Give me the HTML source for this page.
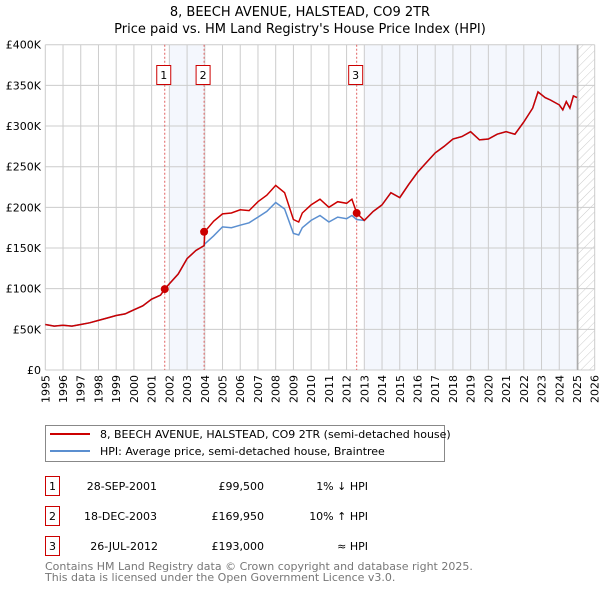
<!DOCTYPE html>
<html><head><meta charset="utf-8"><style>
body{margin:0;background:#fff;font-family:"DejaVu Sans","Liberation Sans",sans-serif;}
svg text{font-family:"DejaVu Sans","Liberation Sans",sans-serif;}
</style></head><body>
<svg id="c" width="600" height="590" xmlns="http://www.w3.org/2000/svg">
<defs><pattern id="hatch" width="6" height="6" patternUnits="userSpaceOnUse" patternTransform="rotate(45)"><line x1="0" y1="0" x2="0" y2="6" stroke="#ccc" stroke-width="1"/></pattern></defs>
<text x="300" y="16" text-anchor="middle" font-size="13">8, BEECH AVENUE, HALSTEAD, CO9 2TR</text>
<text x="300" y="33" text-anchor="middle" font-size="13">Price paid vs. HM Land Registry's House Price Index (HPI)</text>
<g id="plot"></g>
<g>
<rect x="45.5" y="425.5" width="399" height="36" fill="#fff" stroke="#888"/>
<line x1="50" y1="434" x2="90" y2="434" stroke="#cc0000" stroke-width="2"/>
<text x="100" y="438" font-size="11">8, BEECH AVENUE, HALSTEAD, CO9 2TR (semi-detached house)</text>
<line x1="50" y1="451" x2="90" y2="451" stroke="#5b8fd0" stroke-width="2"/>
<text x="100" y="455" font-size="11">HPI: Average price, semi-detached house, Braintree</text>
</g>
<g font-size="11">
<rect x="45.5" y="476.5" width="14" height="19" fill="#fff" stroke="#c00"/><text x="52.5" y="490" text-anchor="middle">1</text>
<text x="157" y="490" text-anchor="end">28-SEP-2001</text><text x="264" y="490" text-anchor="end">£99,500</text><text x="368" y="490" text-anchor="end">1% ↓ HPI</text>
<rect x="45.5" y="506.5" width="14" height="19" fill="#fff" stroke="#c00"/><text x="52.5" y="520" text-anchor="middle">2</text>
<text x="157" y="520" text-anchor="end">18-DEC-2003</text><text x="264" y="520" text-anchor="end">£169,950</text><text x="368" y="520" text-anchor="end">10% ↑ HPI</text>
<rect x="45.5" y="536.5" width="14" height="19" fill="#fff" stroke="#c00"/><text x="52.5" y="550" text-anchor="middle">3</text>
<text x="158" y="550" text-anchor="end">26-JUL-2012</text><text x="264" y="550" text-anchor="end">£193,000</text><text x="368" y="550" text-anchor="end">≈ HPI</text>
</g>
<text x="45" y="570" font-size="11" fill="#777">Contains HM Land Registry data © Crown copyright and database right 2025.</text>
<text x="45" y="581" font-size="11" fill="#777">This data is licensed under the Open Government Licence v3.0.</text>
</svg>
<script>
const years=[1995,1995.5,1996,1996.5,1997,1997.5,1998,1998.5,1999,1999.5,2000,2000.5,2001,2001.5,2001.74,2002,2002.5,2003,2003.5,2003.96,2004,2004.5,2005,2005.5,2006,2006.5,2007,2007.5,2008,2008.5,2009,2009.3,2009.5,2010,2010.5,2011,2011.5,2012,2012.3,2012.57,2013,2013.5,2014,2014.5,2015,2015.5,2016,2016.5,2017,2017.5,2018,2018.5,2019,2019.5,2020,2020.5,2021,2021.5,2022,2022.5,2022.8,2023.2,2023.5,2024,2024.2,2024.4,2024.6,2024.8,2025];
const hpiValues=[56,54,55,54,56,58,61,64,67,69,74,79,87,92,100,106,118,137,147,153,155,165,176,175,178,181,188,195,206,198,168,166,175,184,190,182,188,186,190,185,184,195,203,218,212,228,243,255,267,275,284,287,293,283,284,290,293,290,305,322,342,335,332,326,320,330,322,337,335];
const priceValues=[56,54,55,54,56,58,61,64,67,69,74,79,87,92,99.5,106,118,137,147,153,170,183,192,193,197,196,207,215,227,218,185,182,193,203,210,200,207,205,210,193,184,195,203,218,212,228,243,255,267,275,284,287,293,283,284,290,293,290,305,322,342,335,332,326,320,330,322,337,335];
const saleYears=[2001.74,2003.96,2012.57];
const saleValues=[99.5,169.95,193];
const saleLabels=["1","2","3"];
const yTicks=[0,50,100,150,200,250,300,350,400];
const yTickLabels=["£0","£50K","£100K","£150K","£200K","£250K","£300K","£350K","£400K"];
const xTicks=[];for(let y=1995;y<=2026;y++)xTicks.push(y);
const X0=45.3,X1=594.7,Y0=370,Y1=44.7;
const xs=v=>X0+(v-1995)/(2026-1995)*(X1-X0);
const ys=v=>Y0-v/400*(Y0-Y1);
const NS="http://www.w3.org/2000/svg";
const g=document.getElementById('plot');
function mk(t,a,p){const e=document.createElementNS(NS,t);for(const k in a)e.setAttribute(k,a[k]);(p||g).appendChild(e);return e;}
let e;
e=mk('rect',{x:X0,y:Y1,width:X1-X0,height:Y0-Y1,fill:'#fff'});


e=mk('rect',{x:xs(2002),y:Y1,width:xs(2003.96)-xs(2002),height:Y0-Y1,fill:'#f4f7fd'});


e=mk('rect',{x:xs(2013),y:Y1,width:xs(2025.05)-xs(2013),height:Y0-Y1,fill:'#f4f7fd'});


e=mk('rect',{x:xs(2025.05),y:Y1,width:X1-xs(2025.05),height:Y0-Y1,fill:'url(#hatch)'});


xTicks.forEach((t,i)=>{
  e=mk('line',{x1:xs(t),x2:xs(t),y1:Y1,y2:Y0,stroke:'#ccc','stroke-width':1});
  
  
  e=mk('text',{x:0,y:0,'font-size':11,'text-anchor':'end',transform:`translate(${xs(t)+4},${Y0+5}) rotate(-90)`});
  e.textContent=t;
  
  
});
yTicks.forEach((t,i)=>{
  e=mk('line',{x1:X0,x2:X1,y1:ys(t),y2:ys(t),stroke:'#ccc','stroke-width':1});
  
  
  e=mk('text',{x:41,y:ys(t)+4,'font-size':11,'text-anchor':'end'});
  e.textContent=yTickLabels[i];
  
  
});
e=mk('line',{x1:xs(2025.05),x2:xs(2025.05),y1:Y1,y2:Y0,stroke:'#999','stroke-width':1});


saleYears.forEach((s,i)=>{
  e=mk('line',{x1:xs(s),x2:xs(s),y1:Y1,y2:Y0,stroke:'#e06060','stroke-width':1,'stroke-dasharray':'2,2'});
  
  
  e=mk('rect',{x:xs(s)-8,y:65.5,width:14,height:19,fill:'#fff',stroke:'#c00'});
  
  
  e=mk('text',{x:xs(s)-1,y:79,'font-size':11,'text-anchor':'middle'});
  e.textContent=saleLabels[i];
  
  
});
const path=arr=>arr.map((v,i)=>(i?'L':'M')+xs(years[i]).toFixed(1)+','+ys(v).toFixed(1)).join('');
e=mk('path',{d:path(hpiValues),fill:'none',stroke:'#5b8fd0','stroke-width':1.5});


e=mk('path',{d:path(priceValues),fill:'none',stroke:'#cc0000','stroke-width':1.5});


saleYears.forEach((s,i)=>{
  e=mk('circle',{cx:xs(s),cy:ys(saleValues[i]),r:4,fill:'#cc0000'});
  
  
});
</script>
</body></html>
